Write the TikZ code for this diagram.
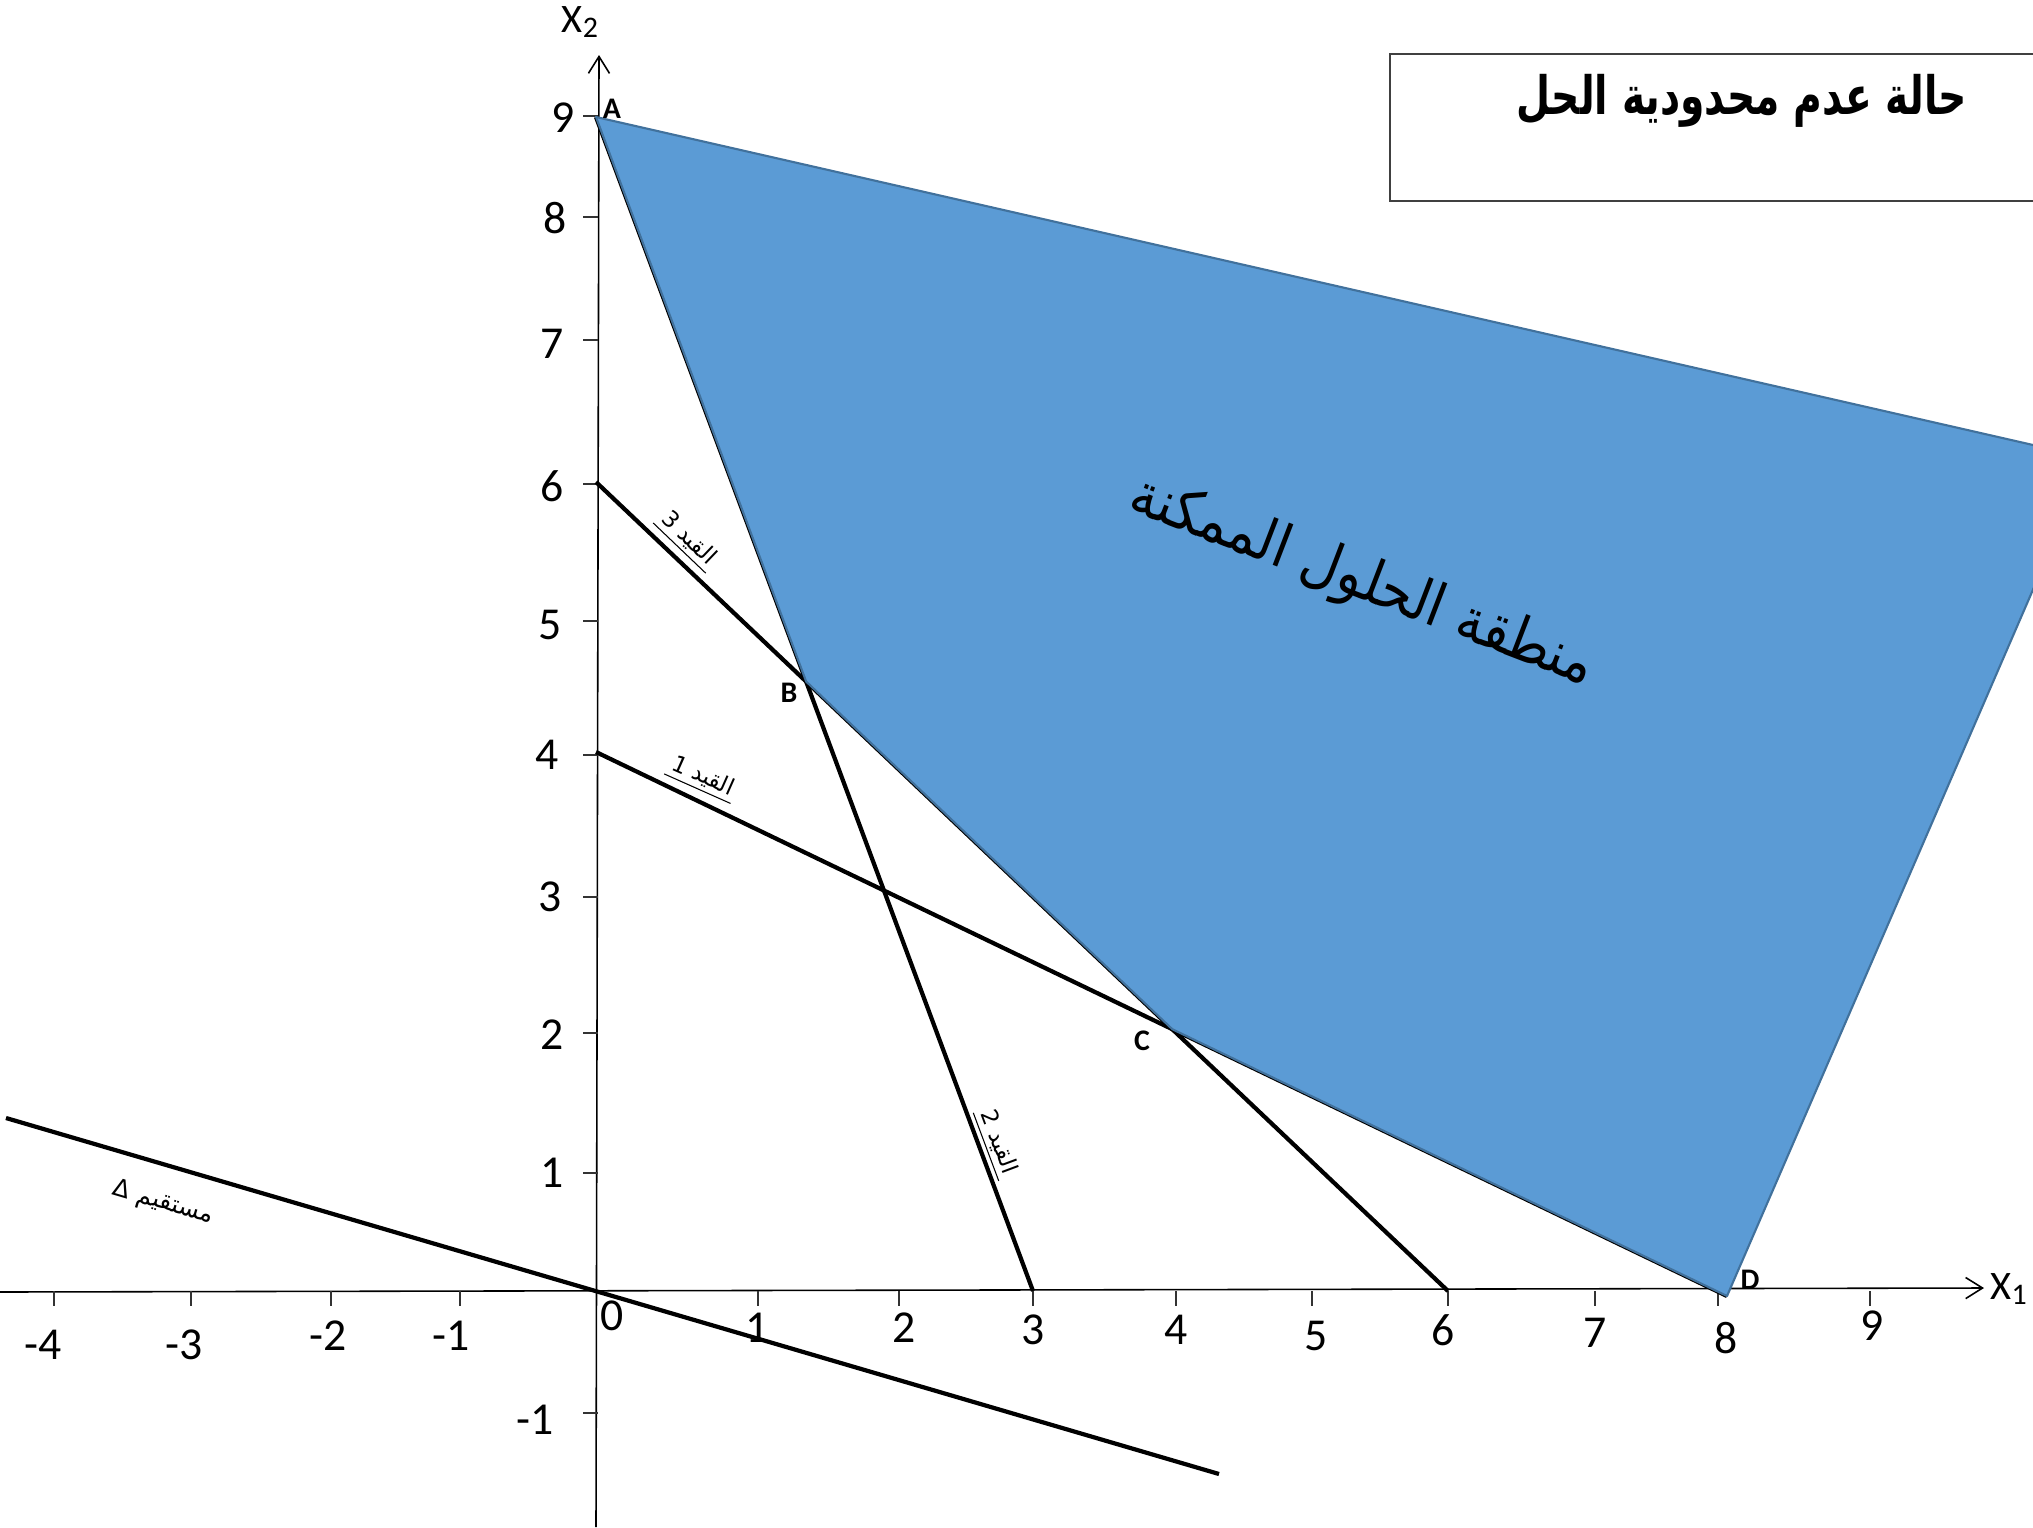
\documentclass[tikz,border=0pt]{standalone}
\usepackage{fontspec}
\usepackage{graphicx}
\setmainfont{Carlito}
\newfontfamily\arabicfont[Script=Arabic]{DejaVu Sans}
\TeXXeTstate=1
\usetikzlibrary{arrows.meta}
\definecolor{regionfill}{HTML}{5B9BD5}
\definecolor{regionedge}{HTML}{41719C}
\definecolor{boxedge}{HTML}{404040}

\begin{document}
\begin{tikzpicture}[x=0.01cm,y=-0.01cm,
  axisline/.style={line width=0.45pt, black, -{Straight Barb[length=4.8pt,width=6pt,line width=0.45pt]}},
  tickmark/.style={line width=0.45pt, black!80},
  cline/.style={line width=1.2pt, black},
  region/.style={fill=regionfill, draw=regionedge, line width=0.6pt, line join=round},
  ticklab/.style={font=\fontsize{13}{14}\selectfont, inner sep=0pt},
  axlab/.style={font=\fontsize{11.5}{13}\selectfont, inner sep=0pt},
  ptlab/.style={font=\bfseries\fontsize{8.5}{9}\selectfont, inner sep=0pt},
  arlab/.style={font=\arabicfont\fontsize{6.5}{7}\selectfont, inner sep=0.8pt,
    append after command={(\tikzlastnode.south west) edge[line width=0.3pt] (\tikzlastnode.south east)}},
  titlebox/.style={draw=boxedge, line width=0.5pt}
]
\clip (0,0) rectangle (2033,1527);
\fill[white] (0,0) rectangle (2033,1527);

% key coordinates
\coordinate (O) at (596,1291);
\coordinate (A) at (596,117);
\coordinate (Y6) at (596,482);
\coordinate (Y4) at (596,752);
\coordinate (X3) at (1033,1291);
\coordinate (X6) at (1448,1291);
\coordinate (D) at (1727,1296);
\coordinate (E) at (2090,458);
\coordinate (B) at (intersection of A--X3 and Y6--X6);
\coordinate (C) at (intersection of Y4--D and Y6--X6);
\coordinate (DL) at (6,1118);
\coordinate (DR) at (1219,1474);
\coordinate (xaxL) at (0,1292);
\coordinate (xaxR) at (1984,1288);
\coordinate (yaxB) at (596,1527);
\coordinate (yaxT) at (599,55);

% title box
\draw[titlebox] (1390,54) rectangle (2100,201);
\node[inner sep=0pt] (title) at (1742,101)
  {\scalebox{1}[1.35]{\resizebox{128pt}{!}{\arabicfont\bfseries\beginR حالة عدم محدودية الحل\endR}}};

% axes
\draw[axisline] (xaxL) -- (xaxR);
\draw[axisline] (yaxB) -- (yaxT);
\node[axlab, anchor=west] (x1lab) at (1990,1289) {X\raisebox{-1.2pt}{\fontsize{8.5}{9}\selectfont 1}};
\node[axlab] (x2lab) at (580,22) {X\raisebox{-1.2pt}{\fontsize{8.5}{9}\selectfont 2}};

% x ticks and labels
\foreach \i/\tx/\lx/\ly/\t in {1/54/43/1345/-4, 2/191/184/1345/-3, 3/331/328/1336/-2, 4/460/451/1336/-1,
  6/758/757/1328/1, 7/899/904/1328/2, 8/1033/1033/1330/3, 9/1176/1176/1330/4, 10/1312/1316/1336/5,
  11/1448/1443/1330/6, 12/1595/1595/1333/7, 13/1718/1726/1338/8, 14/1870/1872/1326/9}
{
  \draw[tickmark] (\tx,1291) -- (\tx,1306);
  \node[ticklab] (xl\i) at (\lx,\ly) {\t};
}
\node[ticklab] (xl5) at (612,1316) {0};

% y ticks and labels
\foreach \i/\ty/\lx/\ly/\t in {1/116/563/118/9, 2/217/555/218/8, 3/340/552/344/7, 4/484/552/486/6,
  5/621/550/625/5, 6/755/547/755/4, 7/897/550/897/3, 8/1033/552/1035/2, 9/1173/552/1173/1, 10/1413/535/1420/-1}
{
  \draw[tickmark] (583,\ty) -- (598,\ty);
  \node[ticklab] (yl\i) at (\lx,\ly) {\t};
}

% constraint lines and objective line
\draw[cline] (Y6) -- (X6);
\draw[cline] (A) -- (X3);
\draw[cline] (Y4) -- (D);
\draw[cline] (DL) -- (DR);

% feasible region
\draw[region] (A) -- (E) -- (D) -- (C) -- (B) -- cycle;

\node[rotate=-21, inner sep=0pt] (regionlab) at (1362,583)
  {\scalebox{1}[1.12]{\resizebox{140pt}{!}{\arabicfont\beginR منطقة الحلول الممكنة\endR}}};

% point labels
\node[ptlab] (Alab) at (612,109) {A};
\node[ptlab] (Blab) at (789,693) {B};
\node[ptlab] (Clab) at (1142,1041) {C};
\node[ptlab] (Dlab) at (1750,1280) {D};

% constraint labels
\node[arlab, rotate=-43.7] (c3lab) at (689,538) {\beginR القيد 3\endR};
\node[arlab, rotate=-24] (c1lab) at (703,776) {\beginR القيد 1\endR};
\node[arlab, rotate=-69.5] (c2lab) at (999,1142) {\beginR القيد 2\endR};
\node[font=\arabicfont\fontsize{7}{8}\selectfont, inner sep=0.8pt, rotate=-16.4] (dlab) at (163,1203) {\beginR مستقيم Δ\endR};
\end{tikzpicture}
\end{document}
